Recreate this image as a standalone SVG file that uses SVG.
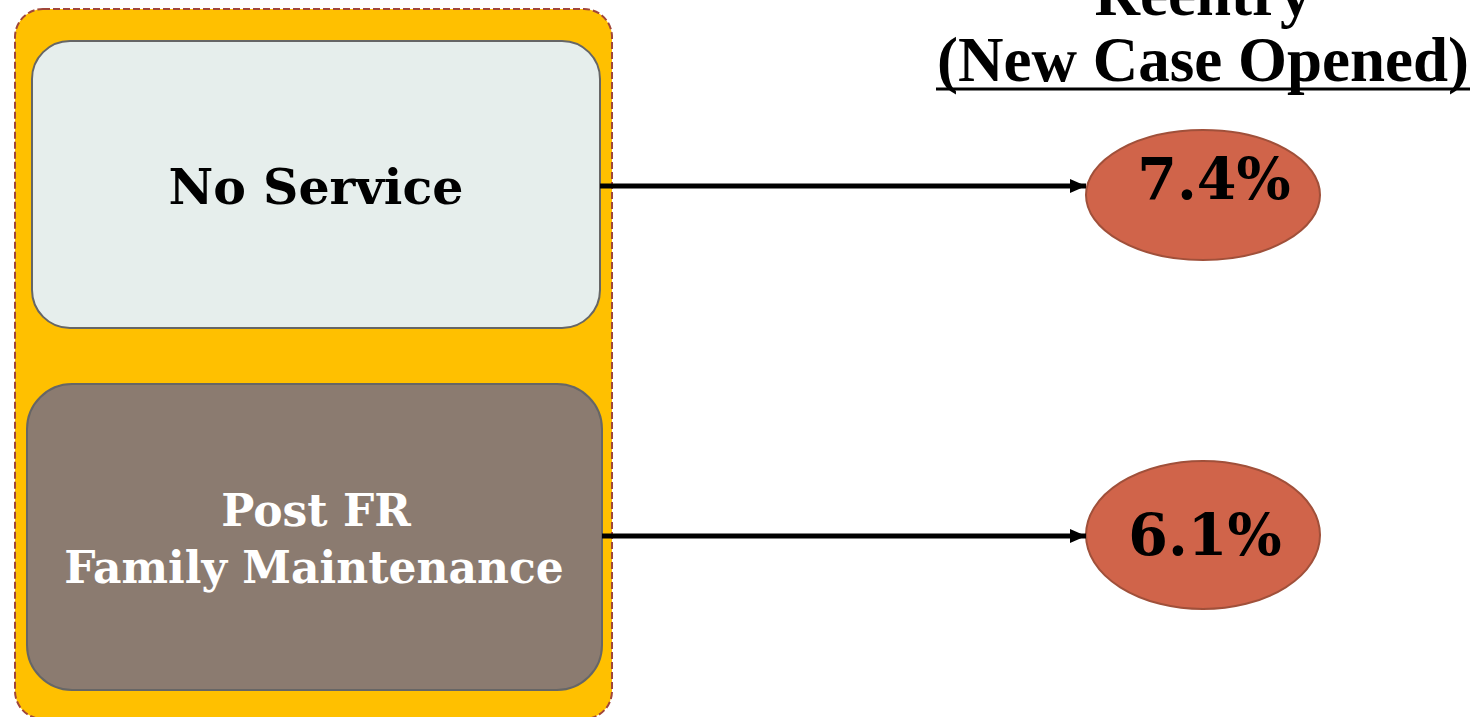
<svg xmlns="http://www.w3.org/2000/svg" width="1480" height="717" viewBox="0 0 1480 717">
<defs>
<marker id="ah" markerWidth="16" markerHeight="14" refX="16" refY="7" orient="auto" markerUnits="userSpaceOnUse" viewBox="0 0 16 14">
<path d="M0,0 L16,7 L0,14 z" fill="#000"/>
</marker>
<style>
.hdr{font-family:"Liberation Serif","Times New Roman",serif;font-weight:bold;font-size:63px;fill:#000;text-anchor:middle}
.lbl{font-family:"DejaVu Serif",Georgia,serif;font-weight:bold;text-anchor:middle}
.pct{font-family:"DejaVu Serif",Georgia,serif;font-weight:bold;font-size:57px;fill:#000;text-anchor:middle}
.oval{fill:#D0644A;stroke:#A0503A;stroke-width:2}
.conn{stroke:#000;stroke-width:5;fill:none}
</style>
</defs>
<g id="container">
<rect x="15" y="9" width="597" height="710" rx="28" fill="#FFC000" stroke="#A0463A" stroke-width="2" stroke-dasharray="7,3"/>
</g>
<g id="header">
<text class="hdr" x="1203" y="15">Reentry</text>
<text class="hdr" x="1203" y="81">(New Case Opened)</text>
<line x1="936" y1="89" x2="1470" y2="89" stroke="#000" stroke-width="3"/>
</g>
<g id="no-service">
<rect x="32" y="41" width="568" height="287" rx="38" fill="#E6EEEC" stroke="#666" stroke-width="2"/>
<text class="lbl" x="316" y="204" font-size="49" fill="#000">No Service</text>
</g>
<g id="post-fr">
<rect x="27" y="384" width="575" height="306" rx="45" fill="#8B7B70" stroke="#666" stroke-width="2"/>
<text class="lbl" x="316" y="526" font-size="44" fill="#fff">Post FR</text>
<text class="lbl" x="314" y="583" font-size="44" fill="#fff">Family Maintenance</text>
</g>
<g id="reentry-1">
<ellipse class="oval" cx="1203" cy="195" rx="117" ry="65"/>
<text class="pct" x="1214" y="199">7.4%</text>
</g>
<g id="reentry-2">
<ellipse class="oval" cx="1203" cy="535" rx="117" ry="74"/>
<text class="pct" x="1205" y="555">6.1%</text>
</g>
<g id="connectors">
<line class="conn" x1="600" y1="186" x2="1086" y2="186" marker-end="url(#ah)"/>
<line class="conn" x1="602" y1="536" x2="1086" y2="536" marker-end="url(#ah)"/>
</g>
</svg>
